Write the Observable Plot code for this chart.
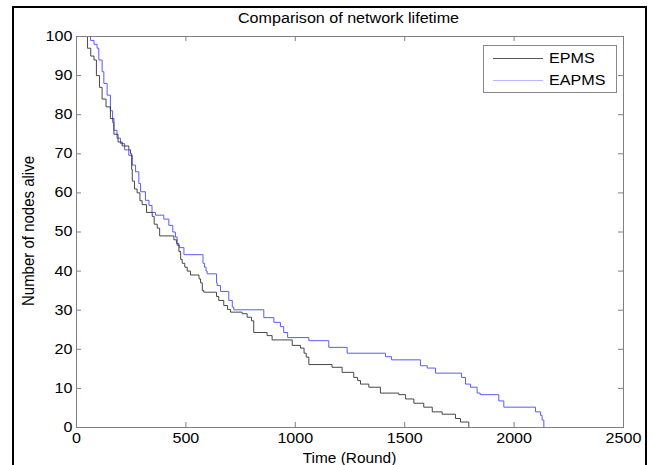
<!DOCTYPE html>
<html>
<head>
<meta charset="utf-8">
<script src="https://cdn.jsdelivr.net/npm/d3@7"></script>
<script src="https://cdn.jsdelivr.net/npm/@observablehq/plot@0.6"></script>
<style>
  html, body { margin: 0; padding: 0; background: #fff; }
  #wrap { position: relative; width: 652px; height: 465px; overflow: hidden; font-family: "Liberation Sans", Arial, sans-serif; color: #000; }
  #frame { position: absolute; left: 12px; top: 6px; width: 631px; height: 480px; border: 2px solid #000; box-sizing: content-box; pointer-events: none; }
  .lbl { position: absolute; white-space: nowrap; }
  #title { left: 76px; width: 545px; top: 10px; text-align: center; font-size: 14px; line-height: 16px; transform: scaleX(1.15); transform-origin: 50% 50%; }
  #xlabel { left: 76px; width: 547px; top: 450px; text-align: center; font-size: 14px; line-height: 16px; transform: scaleX(1.1); transform-origin: 50% 50%; }
  #ylabel { left: 28px; top: 231px; font-size: 15px; line-height: 15px; transform: translate(-50%, -50%) rotate(-90deg) scaleY(1.1); }
  #legend { position: absolute; left: 483px; top: 45px; width: 132px; height: 46px; border: 1px solid #888; background: #fff; font-size: 14px; }
  .entry { position: absolute; left: 0; height: 16px; line-height: 16px; }
  .swatch { position: absolute; left: 9px; width: 50px; top: 8px; height: 0; }
  .etext { position: absolute; left: 65px; top: 0; transform: scaleX(1.15); transform-origin: 0 50%; }
</style>
</head>
<body>
<div id="wrap">
  <div id="chart"></div>
  <div id="frame"></div>
  <div class="lbl" id="title"></div>
  <div class="lbl" id="xlabel"></div>
  <div class="lbl" id="ylabel"></div>
  <div id="legend"></div>
</div>
<script>
const titleText = "Comparison of network lifetime";
const xLabelText = "Time (Round)";
const yLabelText = "Number of nodes alive";
const seriesNames = ["EPMS", "EAPMS"];
const seriesColors = ["#333333", "#5a5aff"];
const xTicks = [0, 500, 1000, 1500, 2000, 2500];
const yTicks = [0, 10, 20, 30, 40, 50, 60, 70, 80, 90, 100];

const epmsRound = [0, 50, 65, 80, 91, 105, 117, 135, 155, 171, 190, 209, 239, 247, 252, 255, 265, 277, 290, 300, 320, 346, 355, 369, 380, 445, 458, 468, 476, 483, 495, 506, 521, 560, 567, 575, 582, 640, 650, 673, 690, 704, 757, 780, 800, 810, 871, 894, 986, 1024, 1040, 1050, 1062, 1168, 1214, 1267, 1285, 1298, 1336, 1389, 1473, 1504, 1542, 1587, 1626, 1671, 1732, 1755, 1793];
const epmsAlive = [100, 97, 95, 94, 90, 87, 84, 82, 79, 75, 73, 72, 71, 70, 66, 63, 61, 60, 58, 57, 55, 54, 52, 51, 49, 48, 47, 45, 43, 42, 41, 40, 39, 38, 37, 35, 34.6, 33.5, 32.5, 31.2, 30.2, 29.5, 29.1, 28.2, 27.3, 24.3, 23.5, 22.4, 21, 20.3, 19, 18, 16.1, 15.4, 14.1, 12.8, 12, 11.1, 10.3, 8.8, 8.4, 7.3, 6.2, 5.2, 4, 3.4, 2.3, 1.4, 0];

const eapmsRound = [0, 64, 80, 94, 102, 117, 125, 140, 155, 165, 171, 185, 201, 220, 239, 255, 270, 285, 293, 315, 331, 345, 361, 399, 422, 440, 452, 460, 470, 491, 578, 585, 592, 597, 640, 643, 658, 696, 712, 719, 856, 902, 932, 947, 965, 1062, 1153, 1237, 1412, 1440, 1572, 1603, 1641, 1760, 1778, 1801, 1831, 1845, 1930, 1953, 2098, 2121, 2128, 2136];
const eapmsAlive = [100, 99, 98, 97, 94, 91, 88, 85, 81, 78, 76, 74, 72.6, 71, 69.6, 67.1, 65.4, 62.4, 60.3, 58.1, 56.8, 55, 54.3, 53.3, 51.7, 50, 48.7, 46.6, 46, 44.2, 42, 41, 40, 39.3, 37, 36.3, 34.8, 32.5, 30.8, 30.1, 28.1, 26.9, 25.8, 24.3, 23, 22.2, 20.5, 19, 18.1, 17.3, 15.8, 15.2, 13.9, 12.8, 11.1, 10.3, 8.8, 8.4, 6.8, 5.2, 4, 3.1, 1.9, 0];

const epms = epmsRound.map((r, i) => ({round: r, alive: epmsAlive[i]}));
const eapms = eapmsRound.map((r, i) => ({round: r, alive: eapmsAlive[i]}));

const W = 652, H = 465, mL = 76, mR = 29, mT = 36, mB = 38;
const innerW = W - mL - mR, innerH = H - mT - mB, tick = 5;
const axisColor = "#808080";

const chart = Plot.plot({
  width: W, height: H,
  marginLeft: mL, marginRight: mR, marginTop: mT, marginBottom: mB,
  x: {domain: [0, 2500]},
  y: {domain: [0, 100]},
  style: {fontFamily: "'Liberation Sans', Arial, sans-serif", fontSize: "14px", background: "transparent", color: "#000"},
  marks: [
    Plot.line(eapms, {x: "round", y: "alive", curve: "step-after", stroke: seriesColors[1], strokeWidth: 1}),
    Plot.line(epms, {x: "round", y: "alive", curve: "step-after", stroke: seriesColors[0], strokeWidth: 0.9}),
    Plot.tickX(xTicks, {x: d => d, insetTop: innerH - tick, stroke: axisColor}),
    Plot.tickX(xTicks, {x: d => d, insetBottom: innerH - tick, stroke: axisColor}),
    Plot.tickY(yTicks, {y: d => d, insetRight: innerW - tick, stroke: axisColor}),
    Plot.tickY(yTicks, {y: d => d, insetLeft: innerW - tick, stroke: axisColor}),
    Plot.frame({stroke: axisColor}),
    Plot.axisX({ticks: xTicks, tickSize: 0, tickPadding: 6, label: null, fontSize: 14, tickFormat: d => String(d)}),
    Plot.axisY({ticks: yTicks, tickSize: 0, tickPadding: 4, label: null, fontSize: 14, tickFormat: d => String(d)})
  ]
});
document.getElementById("chart").appendChild(chart);

// horizontally widen tick labels like the reference
const stretch = 1.15;
chart.querySelectorAll("text").forEach(t => {
  const bb = t.getBBox();
  const anchor = t.closest("[text-anchor]")?.getAttribute("text-anchor") || t.getAttribute("text-anchor") || "middle";
  const ax = anchor === "end" ? bb.x + bb.width : anchor === "start" ? bb.x : bb.x + bb.width / 2;
  const prev = t.getAttribute("transform") || "";
  t.setAttribute("transform", `${prev} translate(${ax},0) scale(${stretch},1) translate(${-ax},0)`);
});

document.getElementById("title").textContent = titleText;
document.getElementById("xlabel").textContent = xLabelText;
document.getElementById("ylabel").textContent = yLabelText;

const legend = document.getElementById("legend");
seriesNames.forEach((name, i) => {
  const e = document.createElement("div");
  e.className = "entry";
  e.style.top = (4 + i * 22) + "px";
  e.style.width = "100%";
  const sw = document.createElement("div");
  sw.className = "swatch";
  sw.style.borderTop = "1px solid " + (i === 0 ? "#555" : "#b8b8ff");
  const t = document.createElement("div");
  t.className = "etext";
  t.textContent = name;
  e.appendChild(sw); e.appendChild(t);
  legend.appendChild(e);
});
</script>
</body>
</html>
